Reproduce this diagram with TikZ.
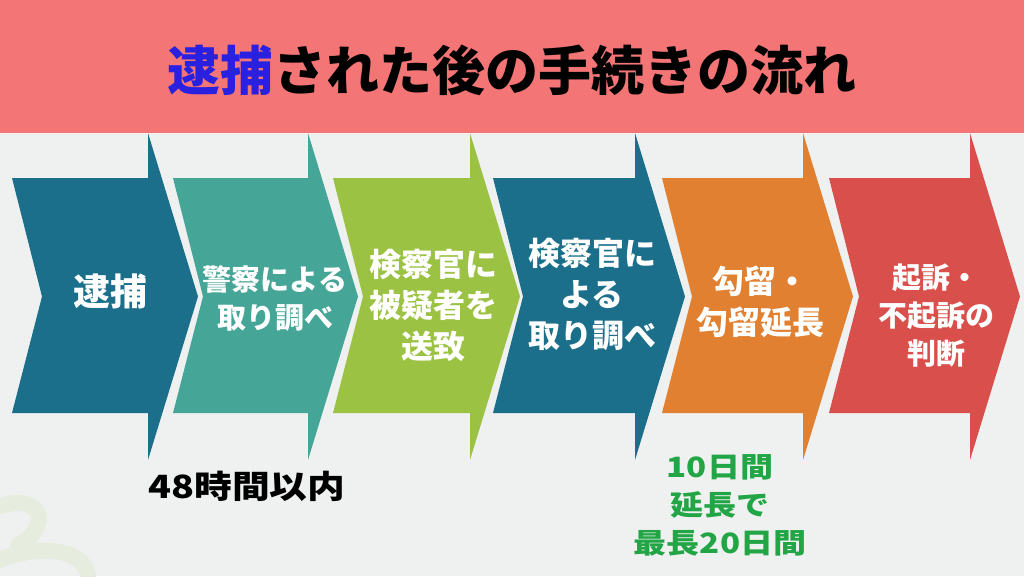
\documentclass[tikz,border=0pt]{standalone}
\usepackage{fontspec}
\newfontfamily\jp{Noto Sans CJK JP}
\definecolor{bgc}{HTML}{EFF1F1}
\definecolor{headc}{HTML}{F37575}
\definecolor{titleblue}{HTML}{2A20E0}
\definecolor{cA}{HTML}{1B6F8A}
\definecolor{cB}{HTML}{45A596}
\definecolor{cC}{HTML}{9CC244}
\definecolor{cE}{HTML}{E08030}
\definecolor{cF}{HTML}{D94F4B}
\definecolor{greenlbl}{HTML}{22A545}
\definecolor{swirl}{HTML}{E6EDDF}
\newcommand{\chevshape}[3]{% L, R, colour
  \fill[#3] (#1,178) -- (#2,178) -- (#2,133) -- ({#2+50},296.5) -- (#2,460) -- (#2,413)
    -- (#1,413) -- ({#1+30},296.5) -- cycle;}
\begin{document}
\begin{tikzpicture}[x=1pt,y=-1pt,
  steptext/.style={text=white,align=center,font=\jp\bfseries\fontsize{29}{38}\selectfont,inner sep=0pt},
  bigtext/.style={steptext,font=\jp\bfseries\fontsize{32}{41}\selectfont},
  notelbl/.style={align=center,inner sep=0pt,xscale=1.18}]
\useasboundingbox (0,0) rectangle (1024,576);
\fill[bgc] (0,0) rectangle (1024,576);
% faint decoration
\draw[swirl,line width=16pt,line cap=round] (-5,508) .. controls (40,490) and (55,525) .. (18,545);
\draw[swirl,line width=16pt,line cap=round] (-5,562) .. controls (45,540) and (90,552) .. (88,580);
% header
\fill[headc] (0,0) rectangle (1024,133);
\node[inner sep=0pt,font=\jp\bfseries\fontsize{53}{60}\selectfont] (title) at (512,70)
  {{\color{titleblue}逮捕}された後の手続きの流れ};
% chevrons
\chevshape{12}{148}{cA}
\chevshape{173}{308}{cB}
\chevshape{333}{470}{cC}
\chevshape{493}{635}{cA}
\chevshape{662}{803}{cE}
\chevshape{829}{970}{cF}
% texts
\node[steptext,font=\jp\bfseries\fontsize{37}{44}\selectfont] (s1) at (110,291) {逮捕};
\node[steptext] (s2) at (275,298) {警察による\\取り調べ};
\node[bigtext] (s3) at (433,305) {検察官に\\被疑者を\\送致};
\node[bigtext] (s4) at (592,294) {検察官に\\よる\\取り調べ};
\node[bigtext] (s5) at (760,302) {勾留・\\勾留延長};
\node[steptext] (s6) at (936,316) {起訴・\\不起訴の\\判断};
% notes
\node[notelbl,font=\jp\bfseries\fontsize{32}{38}\selectfont] (n1) at (247,486) {48時間以内};
\node[notelbl,text=greenlbl,font=\jp\bfseries\fontsize{28}{38}\selectfont] (n2) at (720,505) {10日間\\延長で\\最長20日間};
\end{tikzpicture}
\end{document}
